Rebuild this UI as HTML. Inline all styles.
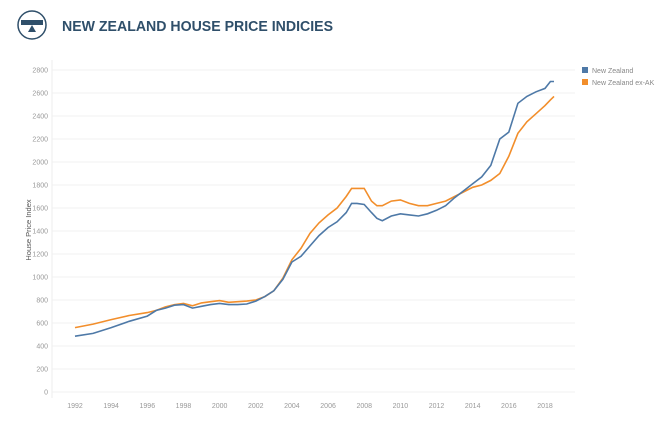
<!DOCTYPE html>
<html><head><meta charset="utf-8"><style>
body{margin:0;background:#fff;width:660px;height:435px;overflow:hidden;font-family:"Liberation Sans",sans-serif}
</style></head><body>
<svg width="660" height="435" xmlns="http://www.w3.org/2000/svg">
<g>
<circle cx="32" cy="25" r="14" fill="none" stroke="#2f4f6a" stroke-width="1.5"/>
<rect x="21" y="20" width="22" height="5" fill="#2f4f6a"/>
<polygon points="32,25 28,32 36,32" fill="#2f4f6a"/>
</g>
<text x="62" y="31" font-size="14.5" font-weight="bold" fill="#2f4f6a" textLength="271" lengthAdjust="spacingAndGlyphs">NEW ZEALAND HOUSE PRICE INDICIES</text>
<g id="grid"></g>
<line x1="52" y1="60" x2="52" y2="398" stroke="#eee"/>
<text transform="translate(31,230) rotate(-90)" font-size="7.5" fill="#555" text-anchor="middle">House Price Index</text>
<g id="series"></g>
<g>
<rect x="582" y="67" width="6" height="6" fill="#4e79a7"/>
<text x="592" y="73" font-size="7" fill="#888">New Zealand</text>
<rect x="582" y="79" width="6" height="6" fill="#f28e2b"/>
<text x="592" y="85" font-size="7" fill="#888">New Zealand ex-AK</text>
</g>
</svg>
<script>
const yTicks=[0,200,400,600,800,1000,1200,1400,1600,1800,2000,2200,2400,2600,2800];
const xTicks=[1992,1994,1996,1998,2000,2002,2004,2006,2008,2010,2012,2014,2016,2018];
const years=[1992,1993,1994,1995,1996,1996.5,1997,1997.5,1998,1998.5,1999,1999.5,2000,2000.5,2001,2001.5,2002,2002.5,2003,2003.5,2004,2004.5,2005,2005.5,2006,2006.5,2007,2007.3,2007.6,2008,2008.4,2008.7,2009,2009.5,2010,2010.5,2011,2011.5,2012,2012.5,2013,2013.5,2014,2014.5,2015,2015.5,2016,2016.5,2017,2017.5,2018,2018.3,2018.5];
const nz=[485,510,560,615,660,710,730,755,760,730,745,760,770,760,760,765,790,830,880,980,1130,1180,1270,1360,1430,1480,1560,1640,1640,1630,1560,1510,1490,1530,1550,1540,1530,1550,1580,1620,1690,1750,1810,1870,1970,2200,2260,2510,2570,2610,2640,2700,2700];
const exak=[560,590,630,665,690,710,740,760,770,750,775,785,795,780,785,790,800,830,880,990,1150,1250,1380,1470,1540,1600,1700,1770,1770,1770,1660,1620,1620,1660,1670,1640,1620,1620,1640,1660,1700,1740,1780,1800,1840,1900,2050,2250,2350,2420,2490,2540,2570];
const NS="http://www.w3.org/2000/svg";
const x=v=>75+(v-1992)*(470/26);
const y=v=>392-v*(322/2800);
const grid=document.getElementById('grid');
yTicks.forEach(t=>{
 const l=document.createElementNS(NS,'line');
 
 
 l.setAttribute('x1',52);l.setAttribute('x2',575);l.setAttribute('y1',y(t));l.setAttribute('y2',y(t));
 l.setAttribute('stroke','#f2f2f2');grid.appendChild(l);
 const tx=document.createElementNS(NS,'text');
 
 
 tx.setAttribute('x',48);tx.setAttribute('y',y(t)+2.5);tx.setAttribute('font-size','7');tx.setAttribute('fill','#999');tx.setAttribute('text-anchor','end');
 tx.textContent=t;grid.appendChild(tx);
});
xTicks.forEach(t=>{
 const tx=document.createElementNS(NS,'text');
 
 
 tx.setAttribute('x',x(t));tx.setAttribute('y',408);tx.setAttribute('font-size','7');tx.setAttribute('fill','#999');tx.setAttribute('text-anchor','middle');
 tx.textContent=t;grid.appendChild(tx);
});
const sg=document.getElementById('series');
function line(vals,color,name){
 const p=document.createElementNS(NS,'polyline');
 
 
 p.setAttribute('points',vals.map((v,i)=>x(years[i]).toFixed(1)+','+y(v).toFixed(1)).join(' '));
 p.setAttribute('fill','none');p.setAttribute('stroke',color);p.setAttribute('stroke-width','1.6');
 sg.appendChild(p);
}
line(exak,'#f28e2b','line-nz-ex-ak');
line(nz,'#4e79a7','line-new-zealand');
</script>
</body></html>
